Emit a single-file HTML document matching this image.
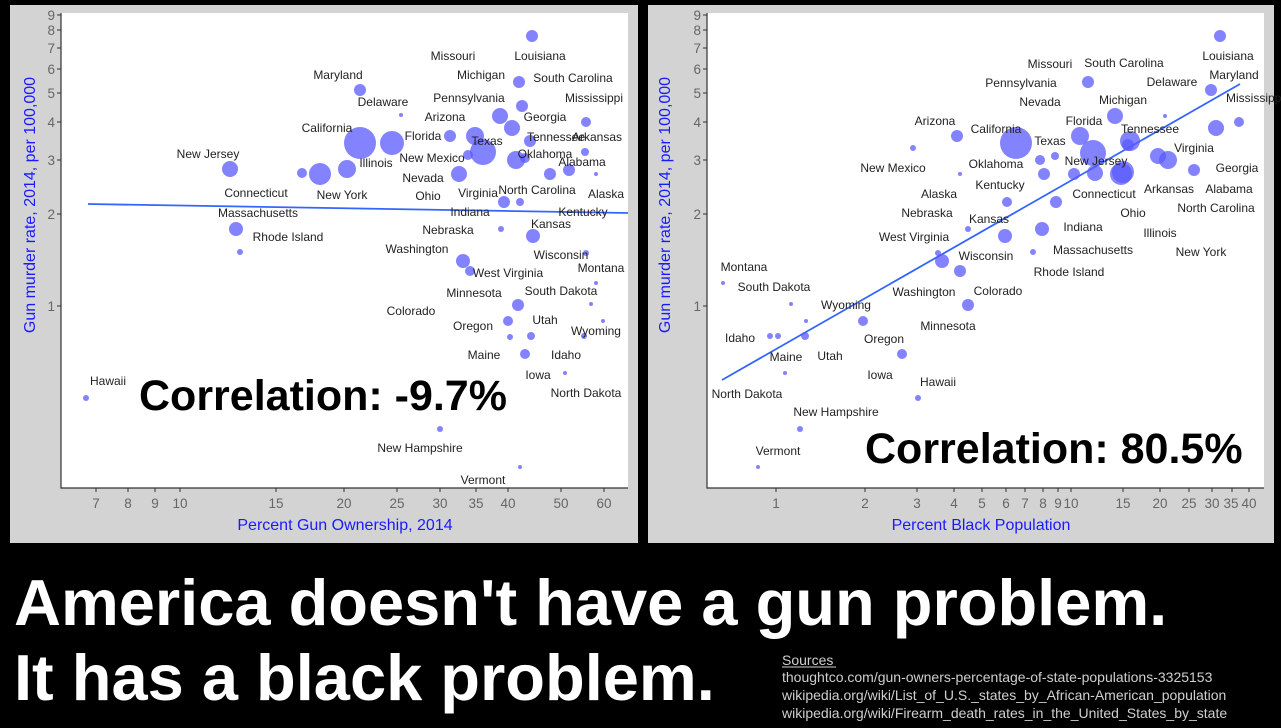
<!DOCTYPE html>
<html><head><meta charset="utf-8"><style>
html,body{margin:0;padding:0;background:#000;}
svg{display:block;font-family:"Liberation Sans",Arial,sans-serif;}
.lb{font-size:12px;fill:#222;text-anchor:middle;}
.tk{font-size:13.5px;fill:#666;}
.ax{font-size:16px;fill:#1a1aff;}
</style></head><body>
<svg width="1281" height="728" viewBox="0 0 1281 728" xmlns="http://www.w3.org/2000/svg">
<rect x="0" y="0" width="1281" height="728" fill="#000"/>
<rect x="10" y="5" width="628" height="538" fill="#d3d3d3"/>
<rect x="648" y="5" width="626" height="538" fill="#d3d3d3"/>
<rect x="61" y="13" width="567" height="475" fill="#fff"/>
<rect x="707" y="13" width="557" height="475" fill="#fff"/>
<g stroke="#333" stroke-width="1.2" fill="none">
<path d="M61,13 V488 H628"/>
<path d="M707,13 V488 H1264"/>
</g>
<g stroke="#333" stroke-width="1">
<path d="M57,15H61M57,30H61M57,48H61M57,69H61M57,93H61M57,122H61M57,160H61M57,214H61M57,306H61"/>
<path d="M703,15H707M703,30H707M703,48H707M703,69H707M703,93H707M703,122H707M703,160H707M703,214H707M703,306H707"/>
<path d="M96,488V492M128,488V492M155,488V492M180,488V492M276,488V492M344,488V492M397,488V492M440,488V492M476,488V492M508,488V492M561,488V492M604,488V492"/>
<path d="M776,488V492M865,488V492M917,488V492M954,488V492M982,488V492M1006,488V492M1025,488V492M1043,488V492M1058,488V492M1071,488V492M1123,488V492M1160,488V492M1189,488V492M1212,488V492M1232,488V492M1249,488V492"/>
</g>
<g class="tk" text-anchor="end">
<text x="55" y="20">9</text><text x="55" y="35">8</text><text x="55" y="53">7</text><text x="55" y="74">6</text><text x="55" y="98">5</text><text x="55" y="127">4</text><text x="55" y="165">3</text><text x="55" y="219">2</text><text x="55" y="311">1</text>
<text x="701" y="20">9</text><text x="701" y="35">8</text><text x="701" y="53">7</text><text x="701" y="74">6</text><text x="701" y="98">5</text><text x="701" y="127">4</text><text x="701" y="165">3</text><text x="701" y="219">2</text><text x="701" y="311">1</text>
</g>
<g class="tk" text-anchor="middle">
<text x="96" y="508">7</text><text x="128" y="508">8</text><text x="155" y="508">9</text><text x="180" y="508">10</text><text x="276" y="508">15</text><text x="344" y="508">20</text><text x="397" y="508">25</text><text x="440" y="508">30</text><text x="476" y="508">35</text><text x="508" y="508">40</text><text x="561" y="508">50</text><text x="604" y="508">60</text>
<text x="776" y="508">1</text><text x="865" y="508">2</text><text x="917" y="508">3</text><text x="954" y="508">4</text><text x="982" y="508">5</text><text x="1006" y="508">6</text><text x="1025" y="508">7</text><text x="1043" y="508">8</text><text x="1058" y="508">9</text><text x="1071" y="508">10</text><text x="1123" y="508">15</text><text x="1160" y="508">20</text><text x="1189" y="508">25</text><text x="1212" y="508">30</text><text x="1231" y="508">35</text><text x="1249" y="508">40</text>
</g>
<text class="ax" x="345" y="530" text-anchor="middle">Percent Gun Ownership, 2014</text>
<text class="ax" x="981" y="530" text-anchor="middle">Percent Black Population</text>
<text class="ax" transform="translate(35,205) rotate(-90)" text-anchor="middle">Gun murder rate, 2014, per 100,000</text>
<text class="ax" transform="translate(670,205) rotate(-90)" text-anchor="middle">Gun murder rate, 2014, per 100,000</text>
<line x1="88" y1="204" x2="628" y2="213" stroke="#3366ff" stroke-width="1.8"/>
<line x1="722" y1="380" x2="1240" y2="84" stroke="#3366ff" stroke-width="1.8"/>
<g fill="#5a5aff" fill-opacity="0.75">
<circle cx="532" cy="36" r="6"/><circle cx="519" cy="82" r="6"/><circle cx="522" cy="106" r="6"/><circle cx="360" cy="90" r="6"/><circle cx="401" cy="115" r="2"/><circle cx="586" cy="122" r="5"/><circle cx="500" cy="116" r="8"/><circle cx="450" cy="136" r="6"/><circle cx="512" cy="128" r="8"/><circle cx="475" cy="136" r="9"/><circle cx="360" cy="143" r="16"/><circle cx="392" cy="143" r="12"/><circle cx="530" cy="141" r="6"/><circle cx="483" cy="152" r="13"/><circle cx="468" cy="155" r="5"/><circle cx="585" cy="152" r="4"/><circle cx="230" cy="169" r="8"/><circle cx="302" cy="173" r="5"/><circle cx="320" cy="174" r="11"/><circle cx="347" cy="169" r="9"/><circle cx="516" cy="160" r="9"/><circle cx="525" cy="158" r="5"/><circle cx="459" cy="174" r="8"/><circle cx="550" cy="174" r="6"/><circle cx="569" cy="170" r="6"/><circle cx="596" cy="174" r="2"/><circle cx="504" cy="202" r="6"/><circle cx="520" cy="202" r="4"/><circle cx="236" cy="229" r="7"/><circle cx="240" cy="252" r="3"/><circle cx="501" cy="229" r="3"/><circle cx="533" cy="236" r="7"/><circle cx="586" cy="253" r="3"/><circle cx="463" cy="261" r="7"/><circle cx="470" cy="271" r="5"/><circle cx="596" cy="283" r="2"/><circle cx="518" cy="305" r="6"/><circle cx="591" cy="304" r="2"/><circle cx="508" cy="321" r="5"/><circle cx="603" cy="321" r="2"/><circle cx="531" cy="336" r="4"/><circle cx="510" cy="337" r="3"/><circle cx="584" cy="336" r="3"/><circle cx="525" cy="354" r="5"/><circle cx="565" cy="373" r="2"/><circle cx="86" cy="398" r="3"/><circle cx="440" cy="429" r="3"/><circle cx="520" cy="467" r="2"/>
</g>
<g fill="#5a5aff" fill-opacity="0.75">
<circle cx="1220" cy="36" r="6"/><circle cx="1088" cy="82" r="6"/><circle cx="1165" cy="116" r="2"/><circle cx="1211" cy="90" r="6"/><circle cx="1239" cy="122" r="5"/><circle cx="1115" cy="116" r="8"/><circle cx="1055" cy="156" r="4"/><circle cx="957" cy="136" r="6"/><circle cx="1016" cy="143" r="16"/><circle cx="1080" cy="136" r="9"/><circle cx="1130" cy="141" r="10"/><circle cx="1093" cy="153" r="13"/><circle cx="1216" cy="128" r="8"/><circle cx="1158" cy="156" r="8"/><circle cx="1194" cy="170" r="6"/><circle cx="1040" cy="160" r="5"/><circle cx="913" cy="148" r="3"/><circle cx="960" cy="174" r="2"/><circle cx="1044" cy="174" r="6"/><circle cx="1074" cy="174" r="6"/><circle cx="1095" cy="173" r="8"/><circle cx="1123" cy="172" r="11"/><circle cx="1121" cy="174" r="11"/><circle cx="1128" cy="145" r="6"/><circle cx="1168" cy="160" r="9"/><circle cx="1056" cy="202" r="6"/><circle cx="968" cy="229" r="3"/><circle cx="1007" cy="202" r="5"/><circle cx="1042" cy="229" r="7"/><circle cx="1033" cy="252" r="3"/><circle cx="938" cy="253" r="3"/><circle cx="1005" cy="236" r="7"/><circle cx="942" cy="261" r="7"/><circle cx="960" cy="271" r="6"/><circle cx="723" cy="283" r="2"/><circle cx="791" cy="304" r="2"/><circle cx="806" cy="321" r="2"/><circle cx="968" cy="305" r="6"/><circle cx="770" cy="336" r="3"/><circle cx="778" cy="336" r="3"/><circle cx="805" cy="336" r="4"/><circle cx="863" cy="321" r="5"/><circle cx="902" cy="354" r="5"/><circle cx="785" cy="373" r="2"/><circle cx="918" cy="398" r="3"/><circle cx="800" cy="429" r="3"/><circle cx="758" cy="467" r="2"/>
</g>
<g class="lb">
<text x="540" y="60">Louisiana</text><text x="453" y="60">Missouri</text><text x="481" y="79">Michigan</text><text x="338" y="79">Maryland</text><text x="573" y="82">South Carolina</text><text x="383" y="106">Delaware</text><text x="594" y="102">Mississippi</text><text x="469" y="102">Pennsylvania</text><text x="445" y="121">Arizona</text><text x="545" y="121">Georgia</text><text x="327" y="132">California</text><text x="423" y="140">Florida</text><text x="556" y="141">Tennessee</text><text x="597" y="141">Arkansas</text><text x="487" y="145">Texas</text><text x="208" y="158">New Jersey</text><text x="545" y="158">Oklahoma</text><text x="432" y="162">New Mexico</text><text x="376" y="167">Illinois</text><text x="582" y="166">Alabama</text><text x="256" y="197">Connecticut</text><text x="342" y="199">New York</text><text x="423" y="182">Nevada</text><text x="478" y="197">Virginia</text><text x="428" y="200">Ohio</text><text x="537" y="194">North Carolina</text><text x="606" y="198">Alaska</text><text x="470" y="216">Indiana</text><text x="583" y="216">Kentucky</text><text x="258" y="217">Massachusetts</text><text x="551" y="228">Kansas</text><text x="448" y="234">Nebraska</text><text x="288" y="241">Rhode Island</text><text x="417" y="253">Washington</text><text x="561" y="259">Wisconsin</text><text x="508" y="277">West Virginia</text><text x="601" y="272">Montana</text><text x="474" y="297">Minnesota</text><text x="561" y="295">South Dakota</text><text x="411" y="315">Colorado</text><text x="473" y="330">Oregon</text><text x="545" y="324">Utah</text><text x="596" y="335">Wyoming</text><text x="484" y="359">Maine</text><text x="566" y="359">Idaho</text><text x="538" y="379">Iowa</text><text x="586" y="397">North Dakota</text><text x="108" y="385">Hawaii</text><text x="420" y="452">New Hampshire</text><text x="483" y="484">Vermont</text>
</g>
<g class="lb">
<text x="1228" y="60">Louisiana</text><text x="1050" y="68">Missouri</text><text x="1124" y="67">South Carolina</text><text x="1172" y="86">Delaware</text><text x="1234" y="79">Maryland</text><text x="1021" y="87">Pennsylvania</text><text x="1255" y="102">Mississippi</text><text x="1123" y="104">Michigan</text><text x="1040" y="106">Nevada</text><text x="1084" y="125">Florida</text><text x="935" y="125">Arizona</text><text x="1150" y="133">Tennessee</text><text x="996" y="133">California</text><text x="1050" y="145">Texas</text><text x="1194" y="152">Virginia</text><text x="893" y="172">New Mexico</text><text x="996" y="168">Oklahoma</text><text x="1096" y="165">New Jersey</text><text x="1237" y="172">Georgia</text><text x="1169" y="193">Arkansas</text><text x="1229" y="193">Alabama</text><text x="939" y="198">Alaska</text><text x="1000" y="189">Kentucky</text><text x="1104" y="198">Connecticut</text><text x="1216" y="212">North Carolina</text><text x="1133" y="217">Ohio</text><text x="927" y="217">Nebraska</text><text x="989" y="223">Kansas</text><text x="1083" y="231">Indiana</text><text x="1160" y="237">Illinois</text><text x="914" y="241">West Virginia</text><text x="1093" y="254">Massachusetts</text><text x="1201" y="256">New York</text><text x="986" y="260">Wisconsin</text><text x="1069" y="276">Rhode Island</text><text x="744" y="271">Montana</text><text x="924" y="296">Washington</text><text x="998" y="295">Colorado</text><text x="774" y="291">South Dakota</text><text x="846" y="309">Wyoming</text><text x="948" y="330">Minnesota</text><text x="740" y="342">Idaho</text><text x="884" y="343">Oregon</text><text x="786" y="361">Maine</text><text x="830" y="360">Utah</text><text x="880" y="379">Iowa</text><text x="747" y="398">North Dakota</text><text x="938" y="386">Hawaii</text><text x="836" y="416">New Hampshire</text><text x="778" y="455">Vermont</text>
</g>
<text x="139" y="410" font-size="43" font-weight="bold" fill="#000">Correlation: -9.7%</text>
<text x="865" y="463" font-size="43" font-weight="bold" fill="#000">Correlation: 80.5%</text>
<text x="14" y="625" font-size="65" font-weight="bold" fill="#fff">America doesn't have a gun problem.</text>
<text x="14" y="700" font-size="65" font-weight="bold" fill="#fff">It has a black problem.</text>
<g font-size="14" fill="#cfcfcf">
<text x="782" y="665">Sources</text>
<line x1="782" y1="667" x2="836" y2="667" stroke="#cfcfcf" stroke-width="1"/>
<text x="782" y="682">thoughtco.com/gun-owners-percentage-of-state-populations-3325153</text>
<text x="782" y="700">wikipedia.org/wiki/List_of_U.S._states_by_African-American_population</text>
<text x="782" y="718">wikipedia.org/wiki/Firearm_death_rates_in_the_United_States_by_state</text>
</g>
</svg>
</body></html>
